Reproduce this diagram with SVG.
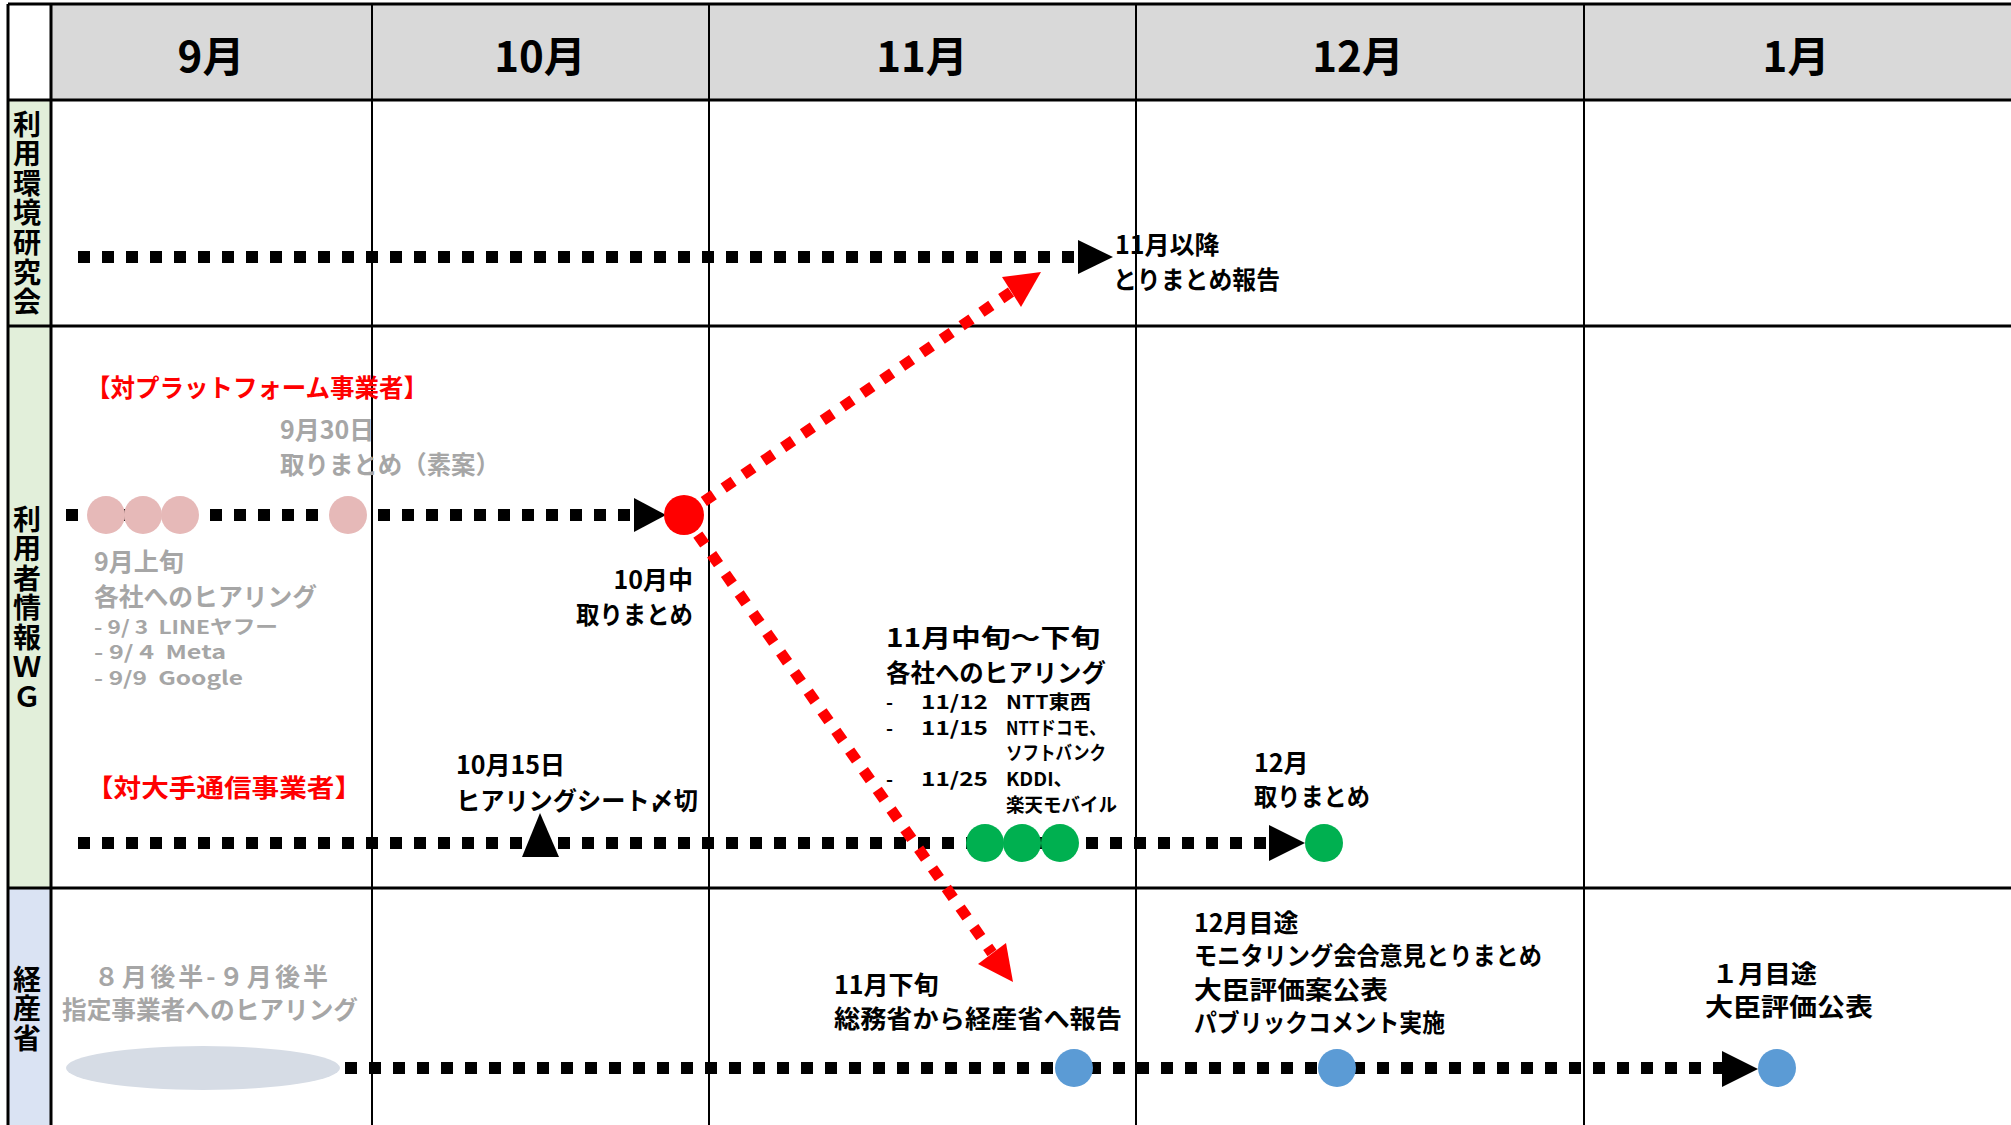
<svg xmlns="http://www.w3.org/2000/svg" width="2011" height="1125" viewBox="0 0 2011 1125">
<style>
text{font-family:"Noto Sans CJK JP","Noto Sans",sans-serif;font-weight:bold;fill:#000}
.hd{font-size:42px;text-anchor:middle}
.lane{font-size:28px;writing-mode:vertical-rl;text-orientation:upright;letter-spacing:1.6px}
.t{font-size:25px}
.s{font-size:19px}
.g{fill:#A6A6A6}
.r{fill:#FF0000}
.grid{stroke:#000;fill:none}
.dot{stroke:#000;stroke-width:12;stroke-dasharray:12 12;fill:none}
.red{stroke:#FF0000;stroke-width:11;stroke-dasharray:12 12;fill:none}
.ah{fill:#000}
.rah{fill:#FF0000}
.pink{fill:#E6B9B8}
.grn{fill:#00B050}
.blu{fill:#5B9BD5}
</style>
<rect x="0" y="0" width="2011" height="1125" fill="#fff"/>
<g id="grid">
<rect x="51" y="4" width="1960" height="96" fill="#D9D9D9"/>
<rect x="8" y="100" width="43" height="788" fill="#E2EFDA"/>
<rect x="8" y="888" width="43" height="237" fill="#DAE3F3"/>
<g class="grid" stroke-width="3">
<line x1="8" y1="4" x2="2011" y2="4"/>
<line x1="8" y1="100" x2="2011" y2="100"/>
<line x1="8" y1="326" x2="2011" y2="326"/>
<line x1="8" y1="888" x2="2011" y2="888"/>
<line x1="8" y1="4" x2="8" y2="1125"/>
<line x1="51" y1="4" x2="51" y2="1125"/>
</g>
<g class="grid" stroke-width="2">
<line x1="372" y1="4" x2="372" y2="1125"/>
<line x1="709" y1="4" x2="709" y2="1125"/>
<line x1="1136" y1="4" x2="1136" y2="1125"/>
<line x1="1584" y1="4" x2="1584" y2="1125"/>
</g>
</g>
<g id="header">
<text class="hd" x="211" y="72">9月</text>
<text class="hd" x="540" y="72">10月</text>
<text class="hd" x="922" y="72">11月</text>
<text class="hd" x="1358" y="72">12月</text>
<text class="hd" x="1796" y="72">1月</text>
</g>
<g id="lane-labels">
<text class="lane" x="27" y="110">利用環境研究会</text>
<text class="lane" x="27" y="505">利用者情報ＷＧ</text>
<text class="lane" x="27" y="965">経産省</text>
</g>
<g id="connectors">
<line class="dot" x1="78" y1="257" x2="1078" y2="257"/>
<line class="dot" x1="66" y1="515" x2="634" y2="515"/>
<line class="dot" x1="78" y1="843" x2="1269" y2="843"/>
<line class="dot" x1="345" y1="1068" x2="1722" y2="1068"/>
<polygon class="ah" points="1078,240 1078,274 1113,257"/>
<polygon class="ah" points="634,498 634,532 666,515"/>
<polygon class="ah" points="1269,825 1269,861 1305,843"/>
<polygon class="ah" points="1722,1051 1722,1087 1758,1069"/>
<line class="red" x1="684" y1="515" x2="1011" y2="292"/>
<polygon class="rah" points="1041,272 1002,277 1021,307"/>
<line class="red" x1="684" y1="515" x2="992" y2="953"/>
<polygon class="rah" points="1013,982 978,964 1006,943"/>
</g>
<g id="n-kenkyukai">
<text class="t" x="1115" y="254">11月以降</text>
<text class="t" x="1113" y="289" textLength="167" lengthAdjust="spacingAndGlyphs">とりまとめ報告</text>
</g>
<g id="n-platform-label">
<text class="t r" x="86" y="397" textLength="342" lengthAdjust="spacingAndGlyphs">【対プラットフォーム事業者】</text>
</g>
<g id="n-sep-hearing">
<ellipse class="pink" cx="106" cy="515" rx="19" ry="19"/>
<ellipse class="pink" cx="143" cy="515" rx="19" ry="19"/>
<ellipse class="pink" cx="180" cy="515" rx="19" ry="19"/>
<text class="t g" x="94" y="571">9月上旬</text>
<text class="t g" x="94" y="606" textLength="223" lengthAdjust="spacingAndGlyphs">各社へのヒアリング</text>
<text class="s g" x="94" y="634" xml:space="preserve" textLength="184" lengthAdjust="spacingAndGlyphs">- 9/ 3  LINEヤフー</text>
<text class="s g" x="94" y="659" xml:space="preserve" textLength="132" lengthAdjust="spacingAndGlyphs">- 9/ 4  Meta</text>
<text class="s g" x="94" y="685" xml:space="preserve" textLength="149" lengthAdjust="spacingAndGlyphs">- 9/9  Google</text>
</g>
<g id="n-sep30">
<circle class="pink" cx="348" cy="515" r="19"/>
<text class="t g" x="280" y="439">9月30日</text>
<text class="t g" x="280" y="474" textLength="220" lengthAdjust="spacingAndGlyphs">取りまとめ（素案）</text>
</g>
<g id="n-oct-mid">
<circle fill="#FF0000" cx="684" cy="515" r="20"/>
<text class="t" x="693" y="589" text-anchor="end">10月中</text>
<text class="t" x="693" y="624" text-anchor="end" textLength="117" lengthAdjust="spacingAndGlyphs">取りまとめ</text>
</g>
<g id="n-carrier-label">
<text class="t r" x="86" y="797" textLength="276" lengthAdjust="spacingAndGlyphs">【対大手通信事業者】</text>
</g>
<g id="n-oct15">
<polygon class="ah" points="540,813 522,857 559,857"/>
<text class="t" x="456" y="774">10月15日</text>
<text class="t" x="456" y="810" textLength="242" lengthAdjust="spacingAndGlyphs">ヒアリングシート〆切</text>
</g>
<g id="n-nov-hearing">
<circle class="grn" cx="985" cy="843" r="19"/>
<circle class="grn" cx="1022" cy="843" r="19"/>
<circle class="grn" cx="1060" cy="843" r="19"/>
<text class="t" x="886" y="647" textLength="214" lengthAdjust="spacingAndGlyphs">11月中旬～下旬</text>
<text class="t" x="886" y="682" textLength="220" lengthAdjust="spacingAndGlyphs">各社へのヒアリング</text>
<text class="s" x="886" y="709">-</text>
<text class="s" x="921" y="709" textLength="67" lengthAdjust="spacingAndGlyphs">11/12</text>
<text class="s" x="1006" y="709" textLength="85" lengthAdjust="spacingAndGlyphs">NTT東西</text>
<text class="s" x="886" y="735">-</text>
<text class="s" x="921" y="735" textLength="67" lengthAdjust="spacingAndGlyphs">11/15</text>
<text class="s" x="1006" y="735" textLength="100" lengthAdjust="spacingAndGlyphs">NTTドコモ、</text>
<text class="s" x="1006" y="760" textLength="100" lengthAdjust="spacingAndGlyphs">ソフトバンク</text>
<text class="s" x="886" y="786">-</text>
<text class="s" x="921" y="786" textLength="67" lengthAdjust="spacingAndGlyphs">11/25</text>
<text class="s" x="1006" y="786" textLength="67" lengthAdjust="spacingAndGlyphs">KDDI、</text>
<text class="s" x="1006" y="812" textLength="111" lengthAdjust="spacingAndGlyphs">楽天モバイル</text>
</g>
<g id="n-dec">
<circle class="grn" cx="1324" cy="843" r="19"/>
<text class="t" x="1254" y="772">12月</text>
<text class="t" x="1254" y="806" textLength="116" lengthAdjust="spacingAndGlyphs">取りまとめ</text>
</g>
<g id="n-meti-hearing">
<ellipse cx="203" cy="1068" rx="137" ry="22" fill="#D6DCE5"/>
<text class="t g" x="94" y="986" textLength="234" lengthAdjust="spacing">８月後半-９月後半</text>
<text class="t g" x="62" y="1019" textLength="296" lengthAdjust="spacingAndGlyphs">指定事業者へのヒアリング</text>
</g>
<g id="n-nov-late">
<circle class="blu" cx="1074" cy="1068" r="19"/>
<text class="t" x="834" y="994">11月下旬</text>
<text class="t" x="834" y="1028" textLength="288" lengthAdjust="spacingAndGlyphs">総務省から経産省へ報告</text>
</g>
<g id="n-dec-target">
<circle class="blu" cx="1337" cy="1068" r="19"/>
<text class="t" x="1194" y="932">12月目途</text>
<text class="t" x="1194" y="965" textLength="348" lengthAdjust="spacingAndGlyphs">モニタリング会合意見とりまとめ</text>
<text class="t" x="1194" y="999" textLength="194" lengthAdjust="spacingAndGlyphs">大臣評価案公表</text>
<text class="t" x="1194" y="1032" textLength="251" lengthAdjust="spacingAndGlyphs">パブリックコメント実施</text>
</g>
<g id="n-jan-target">
<circle class="blu" cx="1777" cy="1068" r="19"/>
<text class="t" x="1712" y="983" textLength="105" lengthAdjust="spacingAndGlyphs">１月目途</text>
<text class="t" x="1705" y="1016" textLength="168" lengthAdjust="spacingAndGlyphs">大臣評価公表</text>
</g>
</svg>
